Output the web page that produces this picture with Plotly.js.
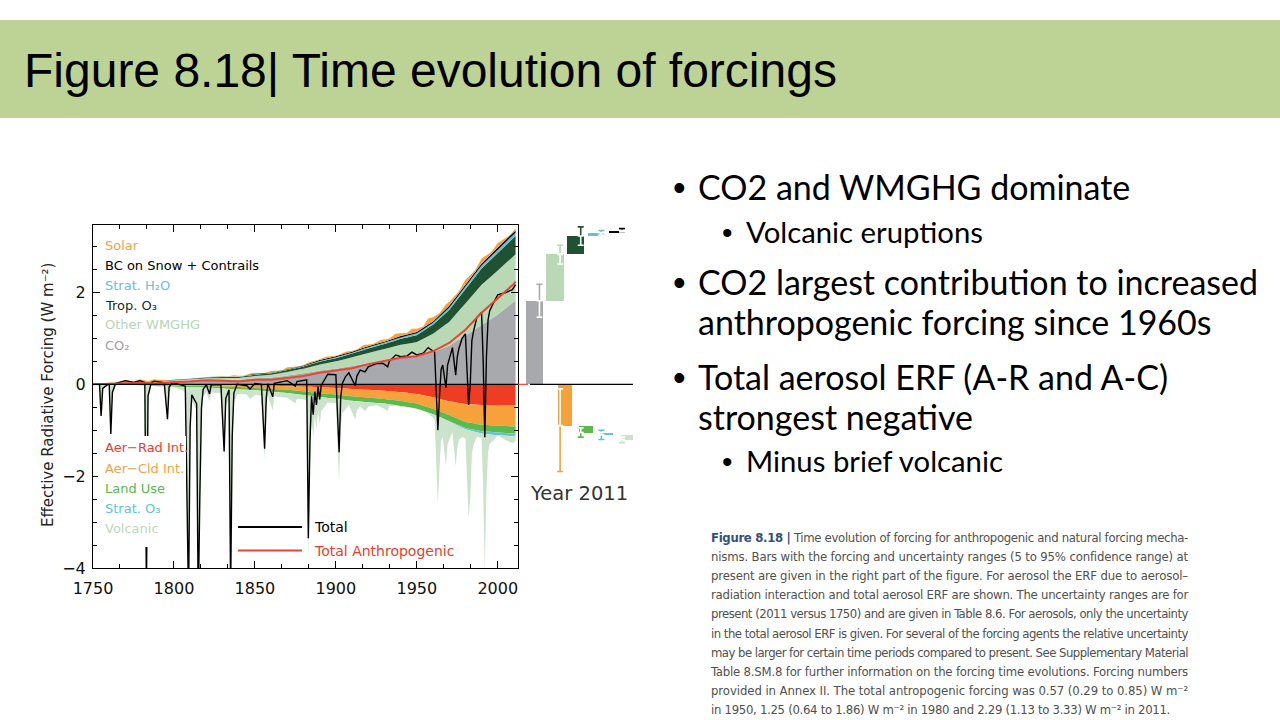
<!DOCTYPE html>
<html><head><meta charset="utf-8">
<script src="https://cdn.plot.ly/plotly-3.0.1.min.js"></script>
<style>
html,body{margin:0;padding:0;width:1280px;height:720px;overflow:hidden;background:#fff;}
#band{position:absolute;left:0;top:20px;width:1280px;height:98px;background:#bdd396;}
#title{position:absolute;left:24px;top:47px;font-family:'Liberation Sans',Arial,sans-serif;font-size:48px;line-height:48px;color:#000;white-space:nowrap;}
#chart{position:absolute;left:0;top:0;width:1280px;height:720px;}
.bl{position:absolute;font-family:Lato,sans-serif;color:#000;white-space:nowrap;line-height:1;}
.bu{position:absolute;font-family:'Liberation Sans',Arial,sans-serif;color:#000;white-space:nowrap;line-height:1;}
.m{font-size:34px;}
.s{font-size:29.3px;}
.bm{font-size:36px;}
.bs{font-size:30px;}
.cap{position:absolute;left:711px;font-family:'Liberation Sans Narrow','DejaVu Sans Condensed',Roboto,sans-serif;font-size:13px;line-height:13px;color:#505050;white-space:nowrap;}
.cap b{color:#34507a;}
</style></head>
<body>
<div id="band"></div>
<div id="title">Figure 8.18| Time evolution of forcings</div>
<div id="chart"></div>

<div class="bu bm" style="left:673px;top:169.5px;">•</div>
<div class="bl m" style="left:698px;top:169.8px;">CO2 and WMGHG dominate</div>
<div class="bu bs" style="left:722px;top:217.6px;">•</div>
<div class="bl s" style="left:746px;top:217px;">Volcanic eruptions</div>
<div class="bu bm" style="left:673px;top:264.5px;">•</div>
<div class="bl m" style="left:698px;top:264.8px;">CO2 largest contribution to increased</div>
<div class="bl m" style="left:698px;top:304.8px;">anthropogenic forcing since 1960s</div>
<div class="bu bm" style="left:673px;top:359.5px;">•</div>
<div class="bl m" style="left:698px;top:359.8px;">Total aerosol ERF (A-R and A-C)</div>
<div class="bl m" style="left:698px;top:399.8px;">strongest negative</div>
<div class="bu bs" style="left:722px;top:446.6px;">•</div>
<div class="bl s" style="left:746px;top:446px;">Minus brief volcanic</div>

<div class="cap" data-w="477" style="top:531px;"><b>Figure 8.18 |</b> Time evolution of forcing for anthropogenic and natural forcing mecha-</div>
<div class="cap" data-w="477" style="top:550px;">nisms. Bars with the forcing and uncertainty ranges (5 to 95% confidence range) at</div>
<div class="cap" data-w="477" style="top:569px;">present are given in the right part of the figure. For aerosol the ERF due to aerosol–</div>
<div class="cap" data-w="477" style="top:588px;">radiation interaction and total aerosol ERF are shown. The uncertainty ranges are for</div>
<div class="cap" data-w="477" style="top:607px;">present (2011 versus 1750) and are given in Table 8.6. For aerosols, only the uncertainty</div>
<div class="cap" data-w="477" style="top:627px;">in the total aerosol ERF is given. For several of the forcing agents the relative uncertainty</div>
<div class="cap" data-w="477" style="top:646px;">may be larger for certain time periods compared to present. See Supplementary Material</div>
<div class="cap" data-w="477" style="top:665px;">Table 8.SM.8 for further information on the forcing time evolutions. Forcing numbers</div>
<div class="cap" data-w="477" style="top:684px;">provided in Annex II. The total antropogenic forcing was 0.57 (0.29 to 0.85) W m⁻²</div>
<div class="cap" data-w="459" style="top:703px;">in 1950, 1.25 (0.64 to 1.86) W m⁻² in 1980 and 2.29 (1.13 to 3.33) W m⁻² in 2011.</div>

<script>
// ---------- time-series data (W m-2) ----------
const years    = [1750,1760,1770,1780,1790,1800,1810,1820,1830,1840,1850,1860,1870,1880,1890,1900,1910,1920,1930,1940,1950,1960,1970,1980,1990,2000,2010,2011];
const co2      = [0,0.01,0.02,0.03,0.04,0.07,0.09,0.10,0.11,0.10,0.13,0.15,0.19,0.24,0.30,0.34,0.40,0.46,0.52,0.58,0.60,0.70,0.84,1.06,1.29,1.52,1.80,1.82];
const otherGhg = [0,0,0.01,0.01,0.01,0.02,0.02,0.03,0.03,0.04,0.05,0.06,0.08,0.10,0.13,0.16,0.19,0.22,0.25,0.28,0.32,0.40,0.52,0.70,0.88,0.96,1.00,1.01];
const tropO3   = [0,0,0,0.01,0.01,0.01,0.01,0.02,0.02,0.02,0.03,0.03,0.04,0.05,0.06,0.07,0.08,0.10,0.11,0.13,0.15,0.20,0.26,0.31,0.35,0.38,0.40,0.40];
const stratH2O = [0,0,0,0,0,0,0,0.01,0.01,0.01,0.01,0.01,0.01,0.01,0.02,0.02,0.02,0.03,0.03,0.03,0.04,0.04,0.05,0.06,0.07,0.07,0.07,0.07];
const bcSnow   = [0,0,0,0,0,0,0,0,0,0,0.01,0.01,0.01,0.01,0.02,0.02,0.02,0.02,0.02,0.03,0.03,0.03,0.04,0.04,0.04,0.05,0.05,0.05];
const aerRad   = [0,0,0,0,-0.01,-0.01,-0.01,-0.01,-0.02,-0.02,-0.03,-0.03,-0.04,-0.05,-0.06,-0.08,-0.10,-0.12,-0.14,-0.17,-0.21,-0.28,-0.37,-0.43,-0.45,-0.45,-0.46,-0.45];
const aerCld   = [0,0,0,-0.01,-0.01,-0.02,-0.02,-0.03,-0.03,-0.04,-0.05,-0.07,-0.08,-0.10,-0.13,-0.14,-0.16,-0.17,-0.18,-0.19,-0.21,-0.25,-0.30,-0.39,-0.43,-0.45,-0.46,-0.45];
const landUse  = [0,0,-0.01,-0.01,-0.02,-0.02,-0.03,-0.03,-0.04,-0.05,-0.05,-0.06,-0.07,-0.08,-0.09,-0.09,-0.10,-0.10,-0.10,-0.11,-0.11,-0.12,-0.13,-0.13,-0.14,-0.15,-0.15,-0.15];
const stratO3  = [0,0,0,0,0,0,0,0,0,0,0,0,0,0,0,0,0,0,0,0,0,0,-0.01,-0.03,-0.05,-0.06,-0.06,-0.06];

const solarYears = [1750,1755,1761,1766,1770,1775,1779,1784,1788,1798,1805,1810,1816,1823,1830,1833,1837,1843,1848,1856,1860,1867,1870,1878,1883,1889,1894,1901,1906,1913,1917,1923,1928,1933,1937,1944,1947,1954,1957,1964,1968,1976,1980,1986,1990,1996,2000,2008,2011];
const solar      = [0,0,0.03,0.01,0.07,0.02,0.06,0.02,0.05,0,0,0,0,0,0.01,0,0.03,0,0.03,0,0.03,0,0.04,0,0.03,0.01,0.04,0.01,0.04,0.01,0.06,0.02,0.06,0.03,0.09,0.03,0.10,0.03,0.13,0.04,0.10,0.04,0.11,0.04,0.11,0.04,0.10,0.01,0.05];

const vYears = [1750,1754,1755,1756,1760,1761,1762,1764,1770,1775,
1779,1782,1783,1784,1786,1788,1794,1796,1797,1799,
1807,1809,1810,1811,1814,1815,1816,1817,1818,1820,
1822,1823,1829,1831,1832,1834,1835,1836,1837,1839,
1845,1847,1850,1854,1856,1857,1858,1861,1862,1870,
1875,1876,1882,1883,1884,1885,1886,1887,1888,1889,
1890,1891,1893,1895,1900,1902,1903,1904,1906,1908,
1912,1913,1915,1918,1920,1925,1929,1932,1933,1937,
1940,1944,1947,1950,1954,1957,1961,1963,1964,1965,
1966,1968,1969,1970,1972,1974,1975,1976,1978,1980,
1982,1983,1984,1985,1987,1990,1991,1992,1993,1994,
1995,1998,2000,2005,2009,2011];
const volcanic = [0,0,-0.7,-0.1,0,-1.1,-0.2,0,0,0,
0,0,-4.6,-0.3,0,0,0,-0.8,-0.1,0,
-0.1,-4.8,-1.0,-0.3,-0.5,-5.0,-2.5,-0.6,-0.2,-0.1,
-0.3,-0.1,-0.1,-1.55,-0.4,-0.2,-4.6,-1.2,-0.3,-0.1,
-0.1,-0.2,-0.1,-0.1,-1.5,-0.4,-0.1,-0.4,-0.1,-0.1,
-0.2,-0.1,-0.1,-3.6,-1.5,-0.5,-0.9,-0.4,-0.7,-0.3,
-0.6,-0.3,-0.2,-0.1,-0.1,-1.8,-0.6,-0.3,-0.2,-0.1,
-0.4,-0.2,-0.1,-0.2,-0.1,-0.05,-0.1,-0.15,-0.05,0,
-0.02,0,0,-0.02,0,-0.02,-0.1,-1.9,-1.1,-0.5,
-0.4,-1.0,-0.5,-0.4,-0.2,-0.9,-0.5,-0.3,-0.2,-0.2,
-1.9,-1.5,-0.5,-0.3,-0.1,-0.1,-1.2,-3.0,-1.2,-0.4,
-0.2,-0.1,0,-0.1,-0.15,-0.12];
const total = [0,0.01,-0.69,-0.09,0.02,-1.08,-0.17,0.02,0.08,0.04,
0.08,0.04,-4.5,-0.25,0.04,0.07,0.03,-0.76,-0.06,0.04,
-0.04,-4.7,-0.93,-0.23,-0.42,-4.9,-2.41,-0.51,-0.11,-0.01,
-0.21,-0.01,-0.01,-1.46,-0.31,-0.12,-4.5,-1.12,-0.19,0.0,
-0.03,-0.1,0.02,0.0,-1.4,-0.3,0.01,-0.27,0.02,0.08,
-0.04,0.06,0.1,-3.35,-1.25,-0.26,-0.66,-0.16,-0.45,-0.05,
-0.33,-0.02,0.1,0.22,0.21,-1.48,-0.28,0.02,0.17,0.25,
-0.03,0.18,0.31,0.27,0.38,0.45,0.46,0.38,0.5,0.64,
0.6,0.62,0.7,0.64,0.68,0.8,0.7,-1.0,-0.26,0.32,
0.42,-0.08,0.42,0.55,0.8,0.2,0.6,0.78,1.0,1.1,
-0.45,0.0,0.95,1.15,1.45,1.57,0.5,-1.15,0.6,1.4,
1.6,1.82,1.95,2.0,2.06,2.17];

// ---------- Year 2011 bars ----------
const posAgents = ['CO2','Other WMGHG','Trop. O3','Strat. H2O','BC on Snow + Contrails'];
const posSlot   = [1,2,3,4,5];
const posVal    = [1.82,1.01,0.40,0.07,0.05];
const posLo     = [1.46,0.80,0.20,0.02,0.02];
const posHi     = [2.18,1.21,0.60,0.12,0.09];
const negAgents = ['Total aerosol','Land Use','Strat. O3','Volcanic'];
const negSlot   = [2,3,4,5];
const negVal    = [-0.90,-0.15,-0.05,-0.11];
const negLo     = [-1.90,-0.25,-0.15,-0.17];
const negHi     = [-0.10,-0.05,0.05,-0.05];

// ---------- colours ----------
const C = {co2:'#a8a9ad', other:'#b8d9b4', trop:'#1f5233', h2o:'#62c3d3', bc:'#000000', solar:'#f6a13a',
           rad:'#ee3d23', cld:'#f6a13a', land:'#5db94c', o3:'#62c3d3', volc:'#cbe2cb', anth:'#ec4432'};

const anthro = years.map((_,i)=>co2[i]+otherGhg[i]+tropO3[i]+stratH2O[i]+bcSnow[i]+aerRad[i]+aerCld[i]+landUse[i]+stratO3[i]);

function area(x,y,color,group){
  return {type:'scatter',mode:'none',x:x,y:y,stackgroup:group,stackgaps:'interpolate',
          fillcolor:color,line:{width:0},hoverinfo:'skip',showlegend:false};
}
const traces = [
  area(years,co2,C.co2,'pos'),
  area(years,otherGhg,C.other,'pos'),
  area(years,tropO3,C.trop,'pos'),
  area(years,stratH2O,C.h2o,'pos'),
  area(years,bcSnow,C.bc,'pos'),
  area(solarYears,solar,C.solar,'pos'),
  area(years,aerRad,C.rad,'neg'),
  area(years,aerCld,C.cld,'neg'),
  area(years,landUse,C.land,'neg'),
  area(years,stratO3,C.o3,'neg'),
  area(vYears,volcanic,C.volc,'neg'),
  {type:'scatter',mode:'lines',x:vYears,y:total,line:{color:'#000',width:1.4},hoverinfo:'skip',showlegend:false},
  {type:'scatter',mode:'lines',x:years,y:anthro,line:{color:C.anth,width:2},hoverinfo:'skip',showlegend:false}
];

// bars (waterfall)
const posColors=[C.co2,C.other,C.trop,C.h2o,C.bc], posW=[0.85,0.85,0.85,0.8,0.8];
const negColors=[C.cld,C.land,C.o3,C.volc], negW=[0.7,0.7,0.65,0.6];
function cum(v){let s=0;return v.map(x=>{const b=s;s+=x;return b;});}
const posBase=cum(posVal), negBase=cum(negVal);
traces.push({type:'bar',x:posSlot,y:posVal,base:posBase,width:posW,marker:{color:posColors,line:{width:0}},xaxis:'x2',yaxis:'y',hoverinfo:'skip',showlegend:false});
traces.push({type:'bar',x:negSlot,y:negVal,base:negBase,width:negW,marker:{color:negColors,line:{width:0}},xaxis:'x2',yaxis:'y',hoverinfo:'skip',showlegend:false});
function errTraces(slot,val,base,lo,hi,colors){
  slot.forEach((s,i)=>{
    const end=base[i]+val[i], eLo=base[i]+lo[i], eHi=base[i]+hi[i];
    traces.push({type:'scatter',mode:'markers',x:[s],y:[end],marker:{size:1,color:'rgba(0,0,0,0)'},xaxis:'x2',yaxis:'y',hoverinfo:'skip',showlegend:false,
      error_y:{type:'data',symmetric:false,array:[eHi-end],arrayminus:[end-eLo],color:colors[i],thickness:1.6,width:3}});
    const bMin=Math.min(base[i],end), bMax=Math.max(base[i],end);
    const iLo=Math.max(eLo,bMin), iHi=Math.min(eHi,bMax);
    if(iHi>iLo){
      traces.push({type:'scatter',mode:'markers',x:[s],y:[iLo],marker:{size:1,color:'rgba(0,0,0,0)'},xaxis:'x2',yaxis:'y',hoverinfo:'skip',showlegend:false,
        error_y:{type:'data',symmetric:false,array:[iHi-iLo],arrayminus:[0],color:'#ffffff',thickness:1.6,width:3}});
    }
  });
}
errTraces(posSlot,posVal,posBase,posLo,posHi,posColors);
errTraces(negSlot,negVal,negBase,negLo,negHi,negColors);

const PX=x=>x/1280, PY=y=>1-y/720;
function lab(text,color,y){return {xref:'paper',yref:'paper',x:PX(103),y:PY(y),xanchor:'left',yanchor:'middle',showarrow:false,text:text,font:{size:13,color:color}};}

const layout = {
  width:1280,height:720,margin:{l:0,r:0,t:0,b:0},
  paper_bgcolor:'rgba(0,0,0,0)',plot_bgcolor:'rgba(0,0,0,0)',showlegend:false,
  font:{family:'DejaVu Sans',color:'#111'},
  bargap:0,
  xaxis:{domain:[PX(93),PX(518)],range:[1750,2012.5],tick0:1750,dtick:50,ticks:'inside',ticklen:7,tickwidth:1,tickcolor:'#000',
         showline:true,linecolor:'#000',linewidth:1,mirror:'ticks',showgrid:false,zeroline:false,tickfont:{size:16,color:'#111'},
         ticklabelstandoff:6,automargin:false,fixedrange:true,
         minor:{dtick:50/3,tick0:1750,ticks:'inside',ticklen:4,tickcolor:'#000',showgrid:false}},
  yaxis:{domain:[PY(568),PY(225)],range:[-4,3.47],tick0:0,dtick:2,ticks:'inside',ticklen:7,tickwidth:1,tickcolor:'#000',
         showline:true,linecolor:'#000',linewidth:1,mirror:'ticks',showgrid:false,zeroline:false,tickfont:{size:16,color:'#111'},
         ticklabelstandoff:3,automargin:false,fixedrange:true,
         minor:{dtick:0.5,ticks:'inside',ticklen:4,tickcolor:'#000',showgrid:false}},
  xaxis2:{domain:[PX(518),PX(635)],anchor:'y',range:[-0.04,5.63],visible:false,fixedrange:true},
  shapes:[
    {type:'rect',xref:'paper',yref:'paper',x0:PX(98),x1:PX(186),y0:PY(547),y1:PY(436),fillcolor:'#ffffff',line:{width:0},layer:'above'},
    {type:'line',xref:'x',yref:'y',x0:1750,x1:2012.5,y0:0,y1:0,line:{color:'#000',width:1.2},layer:'above'},
    {type:'line',xref:'paper',yref:'y',x0:PX(518),x1:PX(528),y0:0,y1:0,line:{color:C.anth,width:1.2},layer:'above'},
    {type:'line',xref:'x2',yref:'y',x0:0.54,x1:5.53,y0:0,y1:0,line:{color:'#000',width:1.2},layer:'above'},
    {type:'line',xref:'paper',yref:'paper',x0:PX(238),x1:PX(302),y0:PY(527),y1:PY(527),line:{color:'#000',width:2}},
    {type:'line',xref:'paper',yref:'paper',x0:PX(238),x1:PX(302),y0:PY(550.5),y1:PY(550.5),line:{color:C.anth,width:2}}
  ],
  annotations:[
    lab('Solar','#f3a24a',245),
    lab('BC on Snow + Contrails','#000',265),
    lab('Strat. H₂O',C.h2o,285.5),
    lab('Trop. O₃','#15301f',305.5),
    lab('Other WMGHG','#b5d6b2',325),
    lab('CO₂','#a0a0a0',345),
    lab('Aer−Rad Int.','#e8402a',447),
    lab('Aer−Cld Int.','#f3a24a',468),
    lab('Land Use','#5cb848',488),
    lab('Strat. O₃',C.h2o,508),
    lab('Volcanic','#bcd7bc',528.5),
    {xref:'paper',yref:'paper',x:PX(312),y:PY(527),xanchor:'left',yanchor:'middle',showarrow:false,text:'Total',font:{size:14,color:'#000'}},
    {xref:'paper',yref:'paper',x:PX(312),y:PY(550.5),xanchor:'left',yanchor:'middle',showarrow:false,text:'Total Anthropogenic',font:{size:14,color:'#e8402a'}},
    {xref:'paper',yref:'paper',x:PX(578.5),y:PY(493),xanchor:'center',yanchor:'middle',showarrow:false,text:'Year 2011',font:{size:19.5,color:'#333'}},
    {xref:'paper',yref:'paper',x:PX(48),y:PY(395),xanchor:'center',yanchor:'middle',showarrow:false,textangle:-90,
     text:'Effective Radiative Forcing (W m⁻²)',font:{size:15,color:'#222'}}
  ]
};

Plotly.newPlot('chart',traces,layout,{staticPlot:true,displayModeBar:false});

function fitCaps(){
  document.querySelectorAll('.cap').forEach(el=>{
    el.style.letterSpacing='0px'; el.style.wordSpacing='0px';
    const w=el.getBoundingClientRect().width, t=parseFloat(el.dataset.w);
    const txt=el.textContent, nSp=(txt.match(/ /g)||[]).length, nCh=txt.length;
    if(w<t && nSp>0) el.style.wordSpacing=((t-w)/nSp)+'px';
    else if(w>t && nCh>0) el.style.letterSpacing=((t-w)/nCh)+'px';
  });
}
fitCaps();
if(document.fonts&&document.fonts.ready){document.fonts.ready.then(fitCaps);}
</script>
</body></html>
